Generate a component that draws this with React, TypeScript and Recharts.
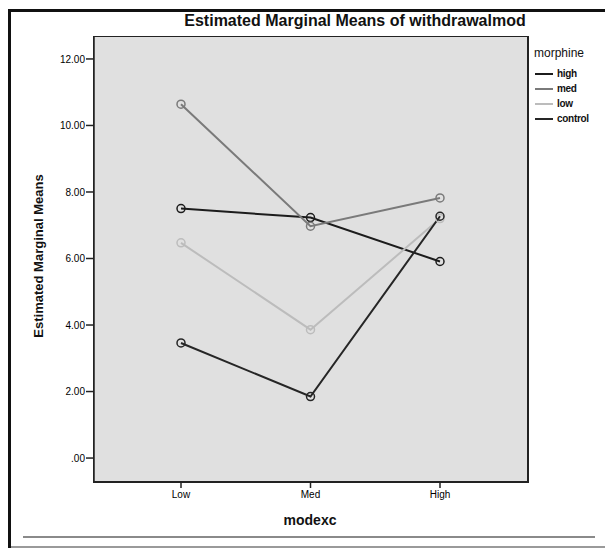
import {
  CartesianGrid,
  Line,
  LineChart,
  XAxis,
  YAxis,
} from 'recharts';

const categories = ['Low', 'Med', 'High'];
const highValues = [7.5, 7.23, 5.91];
const medValues = [10.64, 6.97, 7.82];
const lowValues = [6.47, 3.86, 7.2];
const controlValues = [3.46, 1.85, 7.27];
const yTicks = [0, 2, 4, 6, 8, 10, 12];

const series = [
  { key: 'high', color: '#1c1c1c' },
  { key: 'med', color: '#7a7a7a' },
  { key: 'low', color: '#bcbcbc' },
  { key: 'control', color: '#262626' },
];

const data = categories.map((c, i) => ({
  modexc: c,
  high: highValues[i],
  med: medValues[i],
  low: lowValues[i],
  control: controlValues[i],
}));

const font = 'Arial, "Liberation Sans", sans-serif';

function LegendBox() {
  return (
    <div style={{ position: 'absolute', left: 535, top: 46, width: 70, fontFamily: font, color: '#111' }}>
      <div style={{ fontSize: 12, marginBottom: 6, marginLeft: -1 }}>morphine</div>
      {series.map((s) => (
        <div key={s.key} style={{ display: 'flex', alignItems: 'center', height: 15 }}>
          <div style={{ width: 18, height: 2, background: s.color, marginRight: 4 }} />
          <span style={{ fontSize: 10, fontWeight: 'bold', letterSpacing: -0.3 }}>{s.key}</span>
        </div>
      ))}
    </div>
  );
}

export default function App() {
  return (
    <div
      style={{
        position: 'absolute',
        left: 0,
        top: 0,
        width: 605,
        height: 548,
        background: '#fff',
        fontFamily: font,
        overflow: 'hidden',
      }}
    >
      {/* outer frame */}
      <div style={{ position: 'absolute', left: 8, top: 9, width: 3, height: 539, background: '#111' }} />
      <div style={{ position: 'absolute', left: 8, top: 9, width: 597, height: 3, background: '#111' }} />
      <div style={{ position: 'absolute', left: 23, top: 536, width: 572, height: 2, background: '#8a8a8a' }} />
      <div style={{ position: 'absolute', left: 11, top: 546, width: 594, height: 2, background: '#9a9a9a' }} />

      <div
        style={{
          position: 'absolute',
          left: 0,
          width: 710,
          top: 12,
          textAlign: 'center',
          fontSize: 16,
          fontWeight: 'bold',
          color: '#111',
        }}
      >
        Estimated Marginal Means of withdrawalmod
      </div>
      <div
        style={{
          position: 'absolute',
          left: 38,
          top: 256,
          transform: 'translate(-50%, -50%) rotate(-90deg)',
          whiteSpace: 'nowrap',
          fontSize: 13,
          fontWeight: 'bold',
          color: '#111',
        }}
      >
        Estimated Marginal Means
      </div>
      <div
        style={{
          position: 'absolute',
          left: 310,
          top: 520,
          transform: 'translate(-50%, -50%)',
          fontSize: 14,
          fontWeight: 'bold',
          color: '#111',
        }}
      >
        modexc
      </div>

      <LineChart
        width={605}
        height={548}
        data={data}
        margin={{ top: 37, right: 77, bottom: 36, left: 34 }}
      >
        <CartesianGrid fill="#e0e0e0" horizontal={false} vertical={false} />
        <XAxis
          dataKey="modexc"
          padding={{ left: 87, right: 88 }}
          height={30}
          tickSize={6}
          tickMargin={3}
          axisLine={{ stroke: '#222', strokeWidth: 1.5 }}
          tickLine={{ stroke: '#222', strokeWidth: 1.5 }}
          tick={{ fontSize: 10, fill: '#000', fontFamily: font }}
        />
        <YAxis
          type="number"
          domain={[-0.72, 12.66]}
          ticks={yTicks}
          width={60}
          tickSize={8}
          tickMargin={1}
          allowDataOverflow
          tickFormatter={(v: number) => (v === 0 ? '.00' : v.toFixed(2))}
          axisLine={{ stroke: '#222', strokeWidth: 1.5 }}
          tickLine={{ stroke: '#222', strokeWidth: 1.5 }}
          tick={{ fontSize: 10, fill: '#000', fontFamily: font }}
        />
        {series.map((s) => (
          <Line
            key={s.key}
            dataKey={s.key}
            stroke={s.color}
            strokeWidth={2}
            dot={{ r: 4, stroke: s.color, strokeWidth: 1.5, fill: 'none' }}
            activeDot={false}
            isAnimationActive={false}
          />
        ))}
      </LineChart>
      {/* plot frame */}
      <div
        style={{
          position: 'absolute',
          left: 93,
          top: 36,
          width: 433,
          height: 444,
          border: '1.5px solid #222',
          borderRightWidth: 2,
          borderBottomWidth: 2,
          pointerEvents: 'none',
        }}
      />
      <LegendBox />
    </div>
  );
}
